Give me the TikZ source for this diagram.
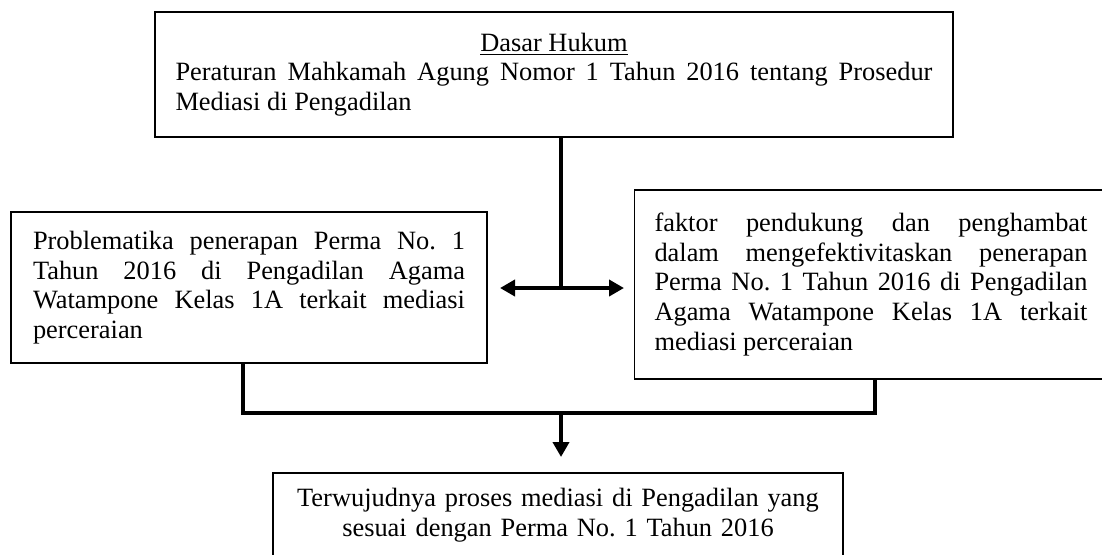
\documentclass[tikz,border=0pt]{standalone}
\usepackage{fontspec}
\setmainfont{Liberation Serif}
\usetikzlibrary{arrows.meta}

\tikzset{
  box/.style={draw,line width=.8pt,inner ysep=0pt,
    font=\fontsize{13.2pt}{14.85pt}\selectfont,
    execute at begin node={\frenchspacing\tolerance=10000\hyphenpenalty=10000}},
  conn/.style={line width=2pt}
}

\begin{document}
\begin{tikzpicture}[x=.5pt,y=-.5pt,>={Triangle[length=7.5pt,width=8pt]}]
\useasboundingbox (0,0) rectangle (1102,554);
\node[box,align=justify,text width=378.5pt,inner xsep=10.25pt,minimum height=62.5pt] (dasar) at (554,74.5) {{\centering\underline{Dasar Hukum}\par}Peraturan Mahkamah Agung Nomor 1 Tahun 2016 tentang Prosedur\linebreak Mediasi di Pengadilan};
\node[box,align=justify,text width=216pt,inner xsep=11pt,minimum height=75.5pt] (problem) at (249,287.5) {Problematika penerapan Perma No. 1\linebreak Tahun 2016 di Pengadilan Agama\linebreak Watampone Kelas 1A terkait mediasi\linebreak perceraian};
\node[box,align=justify,text width=216.5pt,inner xsep=10pt,minimum height=94.5pt] (faktor) at (871,284.5) {faktor pendukung dan penghambat\linebreak dalam mengefektivitaskan penerapan\linebreak Perma No. 1 Tahun 2016 di Pengadilan\linebreak Agama Watampone Kelas 1A terkait\linebreak mediasi perceraian};
\node[box,align=center,text width=265pt,inner xsep=10pt,minimum height=42pt] (hasil) at (558,515) {Terwujudnya proses mediasi di Pengadilan yang\\ sesuai dengan Perma No. 1 Tahun 2016};
\coordinate (hub) at (561,288);
\coordinate (endL) at (500,288);
\coordinate (endR) at (624,288);
\coordinate (joinL) at (243,413);
\coordinate (joinR) at (875,413);
\coordinate (joinM) at (561,413);
\coordinate (endD) at (561,457);
\draw[conn] (dasar.south -| hub) -- (hub);
\draw[conn,<->] (endL) -- (endR);
\draw[conn] (problem.south -| joinL) -- (joinL) -- (joinR) -- (faktor.south -| joinR);
\draw[conn,->] (joinM) -- (endD);
\end{tikzpicture}
\end{document}
